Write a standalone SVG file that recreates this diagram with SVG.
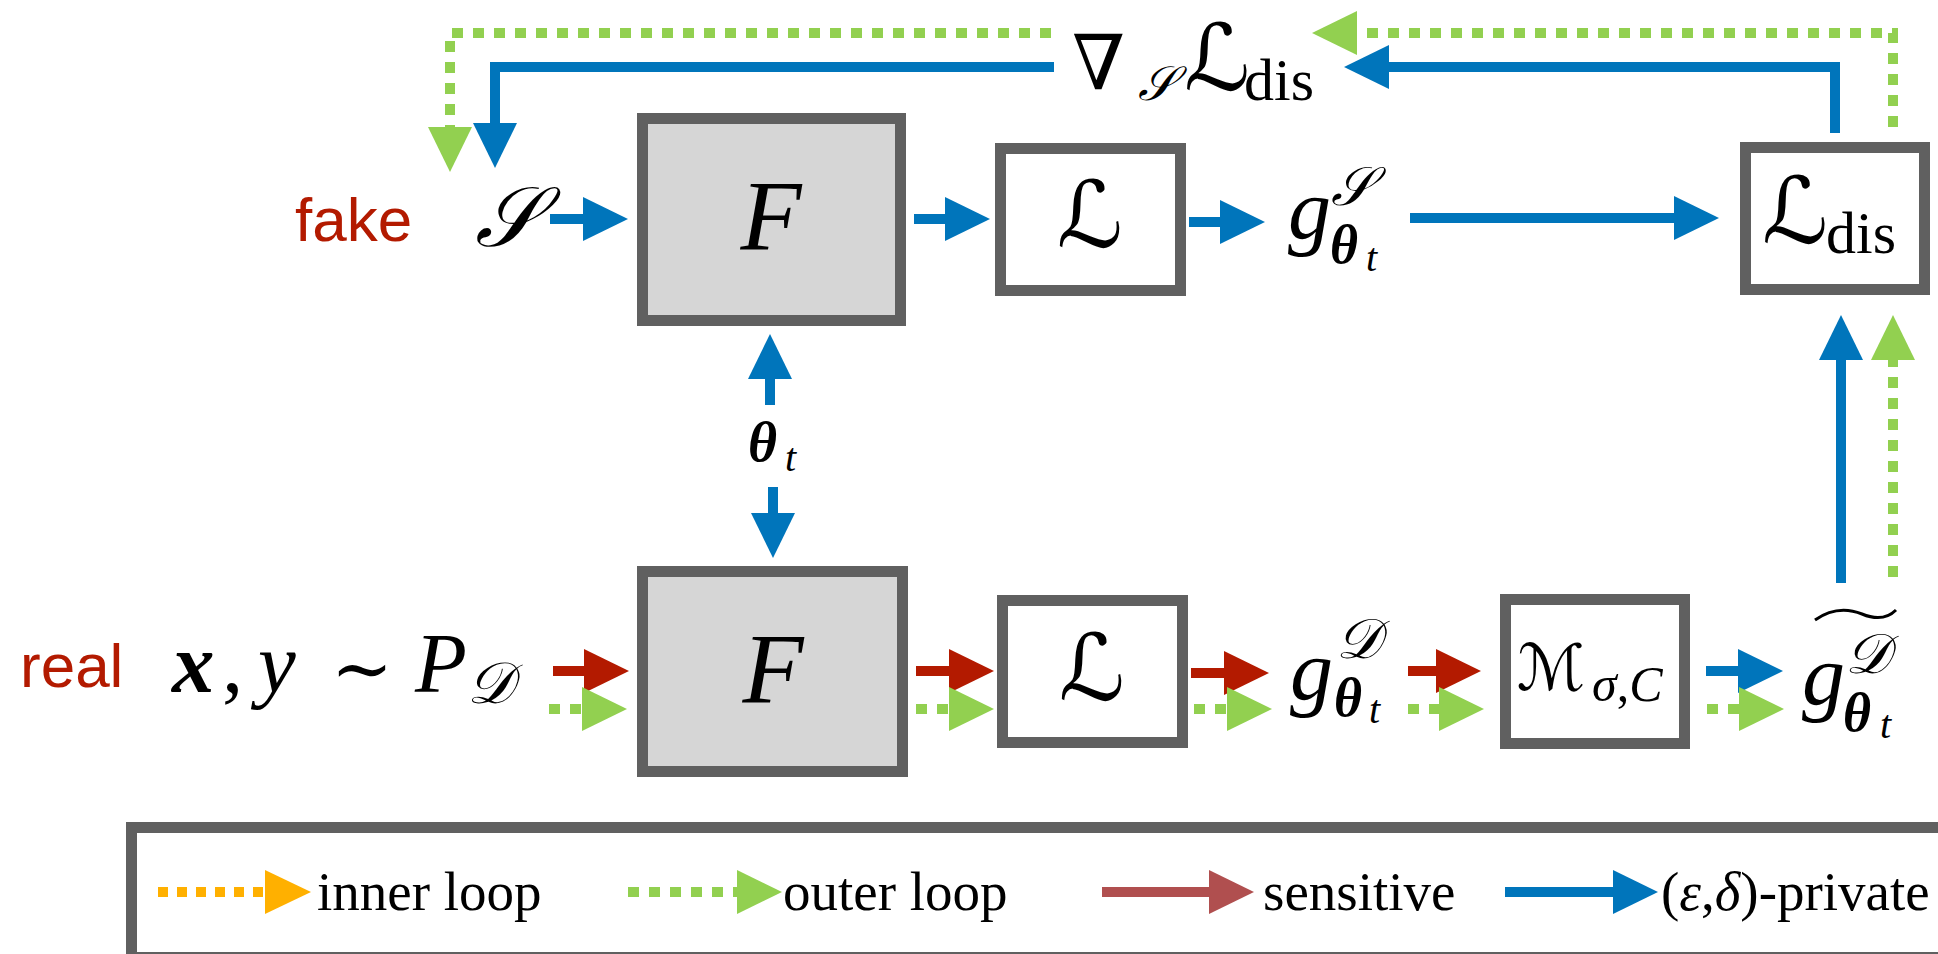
<svg xmlns="http://www.w3.org/2000/svg" width="1938" height="954" viewBox="0 0 1938 954">
<defs>
<style>
.box{stroke:#606060;stroke-width:11;fill:#fff}
.gbox{stroke:#606060;stroke-width:11;fill:#d6d6d6}
.blue{stroke:#0075bb;stroke-width:10;fill:none}
.red{stroke:#b31a00;stroke-width:10;fill:none}
.grn{stroke:#92d050;stroke-width:10;fill:none;stroke-dasharray:11 10}
.org{stroke:#ffb000;stroke-width:10;fill:none;stroke-dasharray:10 9}
.lred{stroke:#b04f4f;stroke-width:10;fill:none}
.lbl{font-family:"Liberation Sans",Arial,sans-serif;fill:#b31a00;font-size:62px}
.it{font-family:"Liberation Serif","Times New Roman",serif;font-style:italic;fill:#000}
.bi{font-family:"Liberation Serif","Times New Roman",serif;font-style:italic;font-weight:bold;fill:#000}
.rm{font-family:"Liberation Serif","Times New Roman",serif;fill:#000}
.sc{font-family:"DejaVu Serif","DejaVu Sans",serif;fill:#000}
.leg{font-family:"Liberation Serif","Times New Roman",serif;fill:#000;font-size:55px}
</style>
<marker id="hb" markerUnits="userSpaceOnUse" markerWidth="45" markerHeight="44" viewBox="0 0 45 44" refX="0" refY="22" orient="auto"><path d="M0,0 L45,22 L0,44 Z" fill="#0075bb"/></marker>
<marker id="hr" markerUnits="userSpaceOnUse" markerWidth="45" markerHeight="44" viewBox="0 0 45 44" refX="0" refY="22" orient="auto"><path d="M0,0 L45,22 L0,44 Z" fill="#b31a00"/></marker>
<marker id="hg" markerUnits="userSpaceOnUse" markerWidth="45" markerHeight="44" viewBox="0 0 45 44" refX="0" refY="22" orient="auto"><path d="M0,0 L45,22 L0,44 Z" fill="#92d050"/></marker>
<marker id="ho" markerUnits="userSpaceOnUse" markerWidth="46" markerHeight="44" viewBox="0 0 46 44" refX="0" refY="22" orient="auto"><path d="M0,0 L46,22 L0,44 Z" fill="#ffb000"/></marker>
<marker id="hl" markerUnits="userSpaceOnUse" markerWidth="45" markerHeight="44" viewBox="0 0 45 44" refX="0" refY="22" orient="auto"><path d="M0,0 L45,22 L0,44 Z" fill="#b04f4f"/></marker>
</defs>
<rect width="1938" height="954" fill="#fff"/>

<g id="fake-label"><text class="lbl" x="295" y="241">fake</text></g>
<g id="real-label"><text class="lbl" x="20" y="687">real</text></g>

<g id="S-node"><text class="it" x="475" y="246" font-size="84">𝒮</text></g>

<g id="F-top"><rect class="gbox" x="642.5" y="118.5" width="258" height="202"/><text class="it" x="771" y="249" font-size="100" text-anchor="middle">F</text></g>
<g id="L-top"><rect class="box" x="1000.5" y="148.5" width="180" height="142"/><text class="sc" x="1090" y="247" font-size="92" text-anchor="middle">ℒ</text></g>
<g id="gS-node"><text class="it" x="1288" y="238" font-size="86">g</text><text class="it" x="1331" y="205" font-size="54">𝒮</text><text class="bi" x="1330" y="263" font-size="54">θ</text><text class="it" x="1366" y="271" font-size="40">t</text></g>
<g id="Ldis-node"><rect class="box" x="1745.5" y="147.5" width="179" height="142"/><text class="sc" x="1762" y="243" font-size="92">ℒ</text><text class="rm" x="1826" y="253" font-size="60">dis</text></g>
<g id="grad-label"><text class="sc" x="1072" y="89" font-size="76">∇</text><text class="it" x="1138" y="100" font-size="48">𝒮</text><text class="sc" x="1184" y="90" font-size="92">ℒ</text><text class="rm" x="1244" y="100" font-size="60">dis</text></g>
<g id="theta-label"><text class="bi" x="748" y="461" font-size="56">θ</text><text class="it" x="785" y="471" font-size="40">t</text></g>

<g id="x-node"><text class="bi" x="172" y="692" font-size="85">x</text><text class="rm" x="222" y="692" font-size="85">,</text><text class="it" x="258" y="692" font-size="85">y</text><text class="sc" x="331" y="694" font-size="74">∼</text><text class="it" x="415" y="692" font-size="85">P</text><text class="it" x="467" y="703" font-size="58">𝒟</text></g>
<g id="F-bot"><rect class="gbox" x="642.5" y="571.5" width="260" height="200"/><text class="it" x="773" y="702" font-size="100" text-anchor="middle">F</text></g>
<g id="L-bot"><rect class="box" x="1002.5" y="600.5" width="180" height="142"/><text class="sc" x="1092" y="700" font-size="92" text-anchor="middle">ℒ</text></g>
<g id="gD-node"><text class="it" x="1290" y="699" font-size="86">g</text><text class="it" x="1336" y="658" font-size="56">𝒟</text><text class="bi" x="1334" y="716" font-size="54">θ</text><text class="it" x="1369" y="723" font-size="40">t</text></g>
<g id="M-node"><rect class="box" x="1505.5" y="599.5" width="179" height="144"/><text class="sc" x="1517" y="690" font-size="64">ℳ</text><text class="rm" x="1592" y="701" font-size="50"><tspan font-style="italic">σ</tspan>,<tspan font-style="italic">C</tspan></text></g>
<g id="gDt-node"><text class="it" x="1802" y="704" font-size="86">g</text><text class="it" x="1845" y="673" font-size="56">𝒟</text><text class="bi" x="1843" y="731" font-size="54">θ</text><text class="it" x="1880" y="738" font-size="40">t</text><path d="M1815,620 C1835,606 1852,610 1862,614 C1874,619 1886,620 1896,610" fill="none" stroke="#000" stroke-width="3"/></g>

<g id="connectors">
<path class="blue" d="M550,219 H583" marker-end="url(#hb)"/>
<path class="blue" d="M914,219 H945" marker-end="url(#hb)"/>
<path class="blue" d="M1189,222 H1220" marker-end="url(#hb)"/>
<path class="blue" d="M1410,218 H1674" marker-end="url(#hb)"/>
<path class="blue" d="M1835,133 V67 H1389" marker-end="url(#hb)"/>
<path class="blue" d="M1054,67 H495 V123" marker-end="url(#hb)"/>
<path class="blue" d="M770,405 V379" marker-end="url(#hb)"/>
<path class="blue" d="M773,487 V513" marker-end="url(#hb)"/>
<path class="blue" d="M1706,671 H1738" marker-end="url(#hb)"/>
<path class="blue" d="M1841,583 V360" marker-end="url(#hb)"/>
<path class="red" d="M553,671 H584" marker-end="url(#hr)"/>
<path class="red" d="M916,671 H949" marker-end="url(#hr)"/>
<path class="red" d="M1191,673 H1224" marker-end="url(#hr)"/>
<path class="red" d="M1408,671 H1436" marker-end="url(#hr)"/>
<path class="grn" d="M549,709 H582" marker-end="url(#hg)"/>
<path class="grn" d="M916,709 H949" marker-end="url(#hg)"/>
<path class="grn" d="M1194,709 H1227" marker-end="url(#hg)"/>
<path class="grn" d="M1408,709 H1439" marker-end="url(#hg)"/>
<path class="grn" d="M1707,709 H1739" marker-end="url(#hg)"/>
<path class="grn" d="M1893,577 V360" marker-end="url(#hg)"/>
<path class="grn" d="M1893,127 V33 H1357" marker-end="url(#hg)"/>
<path class="grn" d="M1051,33 H450 V127" marker-end="url(#hg)"/>
</g>

<g id="legend">
<rect x="131.5" y="827.5" width="1850" height="130" fill="#fff" stroke="#606060" stroke-width="11"/>
<path class="org" d="M158,892 H265" marker-end="url(#ho)"/>
<text class="leg" x="317" y="910">inner loop</text>
<path class="grn" d="M628,892 H737" marker-end="url(#hg)"/>
<text class="leg" x="783" y="910">outer loop</text>
<path class="lred" d="M1102,892 H1209" marker-end="url(#hl)"/>
<text class="leg" x="1263" y="910">sensitive</text>
<path class="blue" d="M1505,892 H1613" marker-end="url(#hb)"/>
<text class="leg" x="1661" y="910">(<tspan font-style="italic">ε</tspan>,<tspan font-style="italic">δ</tspan>)-private</text>
</g>
</svg>
